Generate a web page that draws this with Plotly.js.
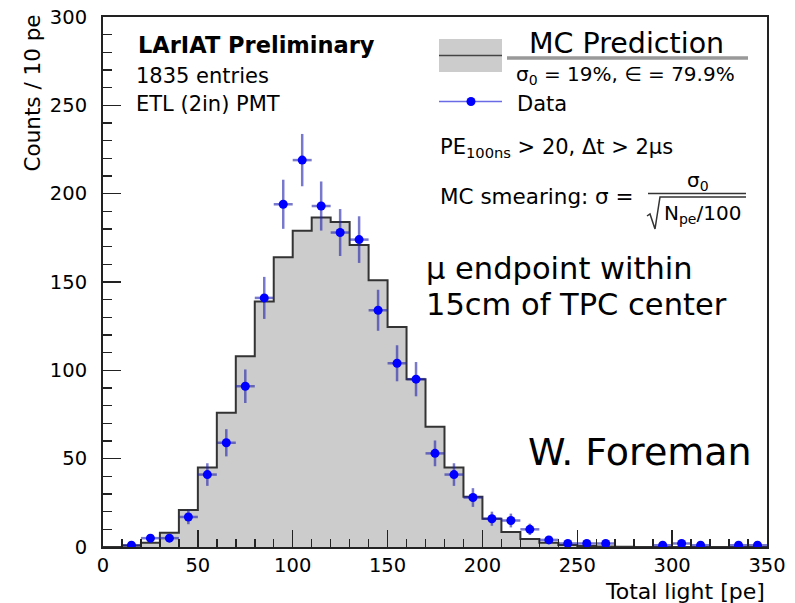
<!DOCTYPE html>
<html>
<head>
<meta charset="utf-8">
<script src="https://cdn.plot.ly/plotly-3.0.1.min.js"></script>
<style>html,body{margin:0;padding:0;background:#fff;}#chart{width:795px;height:603px;}</style>
</head>
<body>
<div id="chart"></div>
<script>
// ---- data ----
const mcBinCenters = [5,15,25,35,45,55,65,75,85,95,105,115,125,135,145,155,165,175,185,195,205,215,225,235,245,255,265,275,285,295,305,315,325,335,345];
const mcCounts     = [0,0.8,2.4,8,21,45,76,108,139,164,179,186.5,184,171,151,124.5,95,68,45,28.5,16,8.5,4.5,2.4,1.1,0.5,0.3,0.1,0,0,0,0,0,0,0];
const dataCenters  = [15,25,35,45,55,65,75,85,95,105,115,125,135,145,155,165,175,185,195,205,215,225,235,245,255,265,295,305,315,335,345];
const dataCounts   = [1,5,5,17,41,59,91,141,194,219,193,178,174,134,104,95,53,41,28,16,15,10,4,2,2,2,1,2,1,1,1];
const dataErrors   = [1.0,2.2,2.2,4.1,6.4,7.7,9.5,11.9,13.9,14.8,13.9,13.3,13.2,11.6,10.2,9.7,7.3,6.4,5.3,4.0,3.9,3.2,2.0,1.4,1.4,1.4,1.0,1.4,1.0,1.0,1.0];
const binWidth = 10;
const xTickLabels = ["0","50","100","150","200","250","300","350"];
const yTickLabels = ["0","50","100","150","200","250","300"];

// ---- geometry helpers (pixel -> paper) ----
const W = 795, H = 603;
const L = 103, R = 767, T = 17, B = 547;
const px = x => (x - L) / (R - L);
const py = y => (B - y) / (B - T);
const FONT = "DejaVu Sans";

// MC histogram drawn as a step outline through bin edges
const mcEdges = mcBinCenters.map(c => c - binWidth / 2);
mcEdges.push(mcBinCenters[mcBinCenters.length - 1] + binWidth / 2);
const mcStepY = mcCounts.slice();
mcStepY.push(mcCounts[mcCounts.length - 1]);

const traces = [
  {
    type: "scatter", mode: "lines", x: mcEdges, y: mcStepY,
    line: {shape: "hv", color: "#333333", width: 2},
    fill: "tozeroy", fillcolor: "#cccccc",
    name: "MC Prediction", showlegend: false, hoverinfo: "skip"
  },
  {
    type: "scatter", mode: "markers", x: dataCenters, y: dataCounts,
    marker: {color: "#0000ff", size: 9},
    error_y: {type: "data", array: dataErrors, visible: true, color: "rgba(30,30,170,0.6)", thickness: 2.5, width: 0},
    error_x: {type: "constant", value: binWidth / 2, visible: true, color: "rgba(30,30,170,0.6)", thickness: 2.5, width: 0},
    name: "Data", showlegend: false
  }
];

function ann(text, x, y, size, opts) {
  return Object.assign({
    text: text, xref: "paper", yref: "paper", x: px(x), y: py(y),
    xanchor: "left", yanchor: "middle", showarrow: false,
    font: {family: FONT, size: size, color: "#000"}
  }, opts || {});
}

const annotations = [
  ann("<b>LArIAT Preliminary</b>", 136, 45, 22.5),
  ann("1835 entries", 134, 76, 21),
  ann("ETL (2in) PMT", 134, 104, 21),
  ann("MC Prediction", 626, 44, 28.5, {xanchor: "center"}),
  ann("σ<sub>0</sub> = 19%, ∈ = 79.9%", 514, 75, 20),
  ann("Data", 515, 104, 21),
  ann("PE<sub>100ns</sub> > 20, Δt > 2μs", 438, 148, 21),
  ann("MC smearing: σ =", 438, 196, 21.5),
  ann("σ<sub>0</sub>", 698, 181, 20, {xanchor: "center"}),
  ann("N<sub>pe</sub>/100", 662, 214, 20),
  ann("μ endpoint within", 424, 268, 30.5),
  ann("15cm of TPC center", 424, 304.5, 30.5),
  ann("W. Foreman", 526, 452, 38),
  ann("Counts / 10 pe", 32, 13, 21.5, {textangle: -90, xanchor: "center", yanchor: "top"}),
  ann("Total light [pe]", 767, 591, 22, {xanchor: "right"})
];

const shapes = [
  // MC legend box
  {type: "rect", xref: "paper", yref: "paper", x0: px(439), x1: px(502), y0: py(39), y1: py(72),
   fillcolor: "#cccccc", line: {width: 0}},
  {type: "line", xref: "paper", yref: "paper", x0: px(439), x1: px(502), y0: py(55.5), y1: py(55.5),
   line: {color: "#444", width: 1.5}},
  // grey underline below "MC Prediction"
  {type: "line", xref: "paper", yref: "paper", x0: px(507), x1: px(748), y0: py(58), y1: py(58),
   line: {color: "#999", width: 3.5}},
  // Data legend line + dot
  {type: "line", xref: "paper", yref: "paper", x0: px(439), x1: px(502), y0: py(101.5), y1: py(101.5),
   line: {color: "#6a6ae6", width: 1.5}},
  {type: "circle", xref: "paper", yref: "paper", x0: px(466.5), x1: px(475.5), y0: py(97), y1: py(106),
   fillcolor: "#0000ff", line: {width: 0}},
  // fraction bar
  {type: "line", xref: "paper", yref: "paper", x0: px(648), x1: px(746), y0: py(193.5), y1: py(193.5),
   line: {color: "#333", width: 1.5}},
  // radical sign
  {type: "path", xref: "paper", yref: "paper",
   path: "M " + px(647) + "," + py(216) + " L " + px(650) + "," + py(214) + " L " + px(655) + "," + py(229) +
         " L " + px(660) + "," + py(197) + " L " + px(746) + "," + py(197),
   line: {color: "#333", width: 1.5}}
];

const axisCommon = {
  showline: true, linecolor: "#222", linewidth: 2, mirror: true,
  showgrid: false, zeroline: false,
  ticks: "inside", tickcolor: "#222", tickwidth: 1.5,
  tickfont: {family: FONT, size: 19.5, color: "#000"}
};

const layout = {
  width: W, height: H,
  margin: {l: L, r: W - R, t: T, b: H - B},
  paper_bgcolor: "#fff", plot_bgcolor: "#fff",
  showlegend: false,
  xaxis: Object.assign({}, axisCommon, {
    range: [0, 350], tickmode: "array",
    tickvals: xTickLabels.map(Number), ticktext: xTickLabels,
    ticklen: 17, ticklabelstandoff: 0,
    minor: {dtick: 10, tick0: 0, ticks: "inside", ticklen: 8, tickwidth: 1.5, tickcolor: "#222", showgrid: false}
  }),
  yaxis: Object.assign({}, axisCommon, {
    range: [0, 300], tickmode: "array",
    tickvals: yTickLabels.map(Number), ticktext: yTickLabels,
    ticklen: 18, ticklabelstandoff: 10,
    minor: {dtick: 10, tick0: 0, ticks: "inside", ticklen: 9, tickwidth: 1.5, tickcolor: "#222", showgrid: false}
  }),
  annotations: annotations,
  shapes: shapes
};

Plotly.newPlot("chart", traces, layout, {displayModeBar: false, staticPlot: true});
</script>
</body>
</html>
